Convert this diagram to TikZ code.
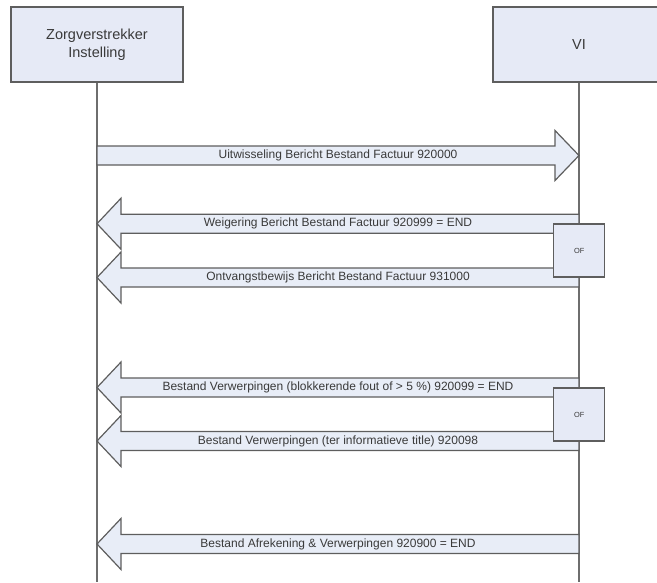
\documentclass[tikz,border=0pt]{standalone}
\usepackage{fontspec}
\setmainfont{Liberation Sans}
\usetikzlibrary{calc}
\definecolor{boxfill}{HTML}{E6EAF6}
\definecolor{arrfill}{HTML}{E8EDF7}
\definecolor{edge}{HTML}{5E5E5E}
\definecolor{txt}{HTML}{3A3A3A}
\tikzset{
  actor/.style={draw=edge, line width=1.3pt, fill=boxfill, minimum width=172pt, minimum height=75pt, inner sep=0pt, align=center, text=txt, font=\fontsize{14.5}{18}\selectfont},
  lifeline/.style={draw=edge!90, line width=1.4pt},
  blockarr/.style={draw=edge, line width=1.2pt, fill=arrfill, line join=miter},
  msg/.style={text=txt, font=\fontsize{12}{14}\selectfont, inner sep=0pt},
  orbox/.style={draw=edge, line width=1.2pt, fill=boxfill, minimum width=51pt, minimum height=53pt, inner sep=0pt, text=txt, font=\fontsize{7.4}{9}\selectfont}
}
\newcommand\leftmsg[3]{% name, y, text
  \draw[blockarr] (579,#2-9.5) -- (121,#2-9.5) -- (121,#2-25.5) -- (97,#2) -- (121,#2+25.5) -- (121,#2+9.5) -- (579,#2+9.5) -- cycle;
  \node[msg] (#1) at (338,#2) {#3};
}
\begin{document}
\begin{tikzpicture}[x=1pt,y=-1pt]
\useasboundingbox (0,0) rectangle (657,582);
\node[actor] (zv) at (97,44.5) {Zorgverstrekker\\Instelling};
\node[actor] (vi) at (579,44.5) {VI};
\coordinate (zvend) at (97,582);
\coordinate (viend) at (579,582);
\draw[lifeline] (zv.south) -- (zvend);
\draw[lifeline] (vi.south) -- (viend);
% message 1 (to the right)
\draw[blockarr] (97,146) -- (555,146) -- (555,130.5) -- (579,155.5) -- (555,180.5) -- (555,165) -- (97,165) -- cycle;
\node[msg] (m1) at (338,155.5) {Uitwisseling Bericht Bestand Factuur 920000};
\leftmsg{m2}{223.7}{Weigering Bericht Bestand Factuur 920999 = END}
\leftmsg{m3}{277.5}{Ontvangstbewijs Bericht Bestand Factuur 931000}
\leftmsg{m4}{387.5}{Bestand Verwerpingen (blokkerende fout of > 5 \%) 920099 = END}
\leftmsg{m5}{441}{Bestand Verwerpingen (ter informatieve title) 920098}
\leftmsg{m6}{544}{Bestand Afrekening \& Verwerpingen 920900 = END}
\node[orbox] (of1) at (579.25,250.5) {OF};
\node[orbox] (of2) at (579.25,414.5) {OF};
\end{tikzpicture}
\end{document}
